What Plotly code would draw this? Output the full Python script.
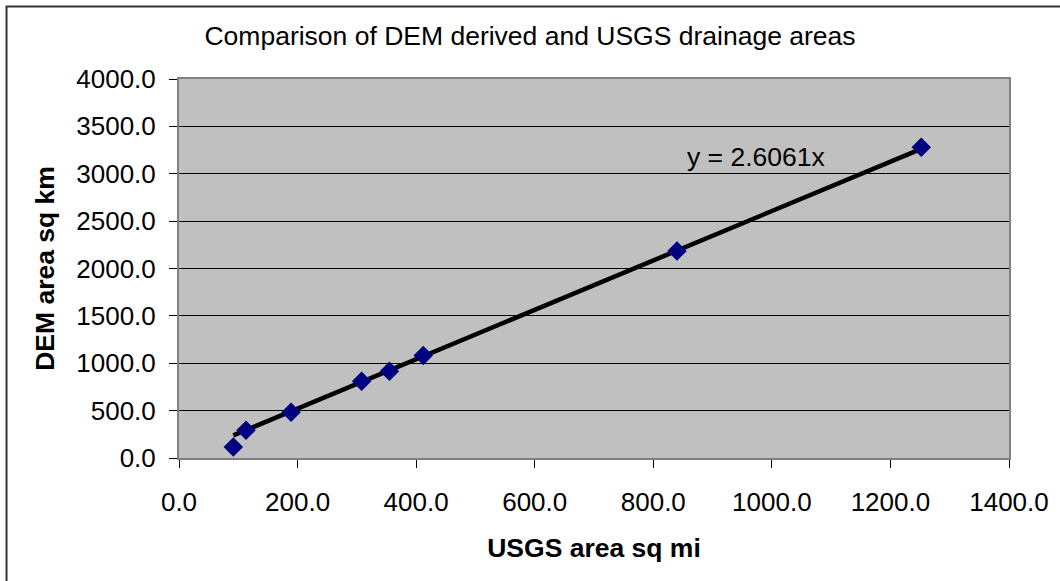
import plotly.graph_objects as go

usgs_sq_mi = [91.6, 113, 189, 308, 355, 412, 840, 1252]
dem_sq_km = [116, 293, 483, 811, 916, 1083, 2185, 3281]
slope = 2.6061
x_ticks = [0, 200, 400, 600, 800, 1000, 1200, 1400]
y_ticks = [0, 500, 1000, 1500, 2000, 2500, 3000, 3500, 4000]

FONT = "Liberation Sans, Arial, sans-serif"
TICK_SIZE = 26
TEXT_SIZE = 26.5

trend_x = [min(usgs_sq_mi), max(usgs_sq_mi)]
trend_y = [slope * v for v in trend_x]

fig = go.Figure()
fig.add_trace(go.Scatter(
    x=trend_x, y=trend_y, mode="lines",
    line=dict(color="black", width=4.5), showlegend=False))
fig.add_trace(go.Scatter(
    x=usgs_sq_mi, y=dem_sq_km, mode="markers",
    marker=dict(symbol="diamond", size=15, color="#000080"),
    showlegend=False))

fig.add_annotation(x=974, y=3179, text="y = 2.6061x", showarrow=False,
                   font=dict(family=FONT, size=TEXT_SIZE, color="black"))

# outer chart border (only top/left visible in frame)
fig.add_shape(type="rect", xref="paper", yref="paper",
              x0=-0.2078, y0=-0.6, x1=1.2, y1=1.1913,
              line=dict(color="#333333", width=2), fillcolor="rgba(0,0,0,0)",
              layer="below")

fig.update_layout(
    width=1060, height=581,
    margin=dict(l=179, r=51, t=79, b=123),
    paper_bgcolor="white", plot_bgcolor="#C0C0C0",
    font=dict(family=FONT, size=TICK_SIZE, color="black"),
    title=dict(text="Comparison of DEM derived and USGS drainage areas",
               x=0.5, xref="container", xanchor="center",
               y=1 - 36 / 581, yanchor="middle",
               font=dict(family=FONT, size=TEXT_SIZE, color="black")),
    xaxis=dict(range=[0, 1400], tickvals=x_ticks,
               ticktext=[f"{v:.1f}" for v in x_ticks],
               showgrid=False, zeroline=False,
               ticks="outside", ticklen=8, tickcolor="black", tickwidth=1,
               ticklabelstandoff=12,
               showline=True, linecolor="#808080", linewidth=2, mirror=True,
               title=dict(text="<b>USGS area sq mi</b>", standoff=22,
                          font=dict(family=FONT, size=TEXT_SIZE)),
               tickfont=dict(family=FONT, size=TICK_SIZE)),
    yaxis=dict(range=[0, 4000], tickvals=y_ticks,
               ticktext=[f"{v:.1f}" for v in y_ticks],
               showgrid=True, gridcolor="black", gridwidth=1, zeroline=False,
               ticks="outside", ticklen=8, tickcolor="black", tickwidth=1,
               ticklabelstandoff=8,
               showline=True, linecolor="#808080", linewidth=2, mirror=True,
               title=dict(text="<b>DEM area sq km</b>", standoff=14,
                          font=dict(family=FONT, size=TEXT_SIZE)),
               tickfont=dict(family=FONT, size=TICK_SIZE)),
)

fig.write_html("out.html", config={"displayModeBar": False},
               post_script="document.body.style.margin='0';document.body.style.overflow='hidden';")
